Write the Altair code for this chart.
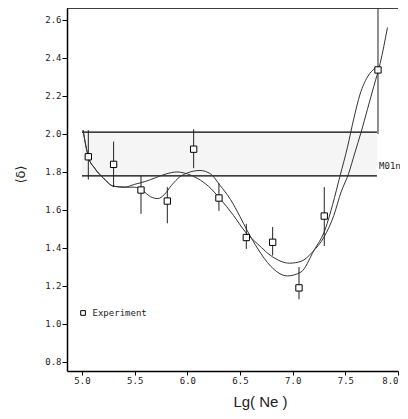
import altair as alt
import pandas as pd

# ---- data ----
exp_x  = [5.06, 5.30, 5.56, 5.81, 6.06, 6.30, 6.56, 6.81, 7.06, 7.30, 7.81]
exp_y  = [1.88, 1.84, 1.705, 1.647, 1.92, 1.663, 1.455, 1.43, 1.19, 1.568, 2.337]
err_lo = [1.76, 1.72, 1.58, 1.53, 1.82, 1.595, 1.395, 1.36, 1.13, 1.41, 2.00]
err_hi = [2.02, 1.96, 1.78, 1.72, 2.025, 1.74, 1.527, 1.51, 1.30, 1.72, 2.67]

curve_a_x = [5.01, 5.06, 5.12, 5.20, 5.30, 5.42, 5.50, 5.58, 5.65, 5.72, 5.78, 5.85,
             5.93, 6.00, 6.12, 6.22, 6.31, 6.41, 6.50, 6.57, 6.67, 6.79, 6.95, 7.08,
             7.20, 7.31, 7.38, 7.45, 7.52, 7.58, 7.64, 7.71, 7.79]
curve_a_y = [2.02, 1.88, 1.82, 1.77, 1.725, 1.72, 1.72, 1.70, 1.67, 1.66, 1.68, 1.73,
             1.775, 1.795, 1.808, 1.79, 1.73, 1.655, 1.565, 1.49, 1.395, 1.305, 1.253, 1.274,
             1.385, 1.50, 1.63, 1.78, 1.93, 2.08, 2.21, 2.30, 2.35]

curve_b_x = [5.01, 5.06, 5.12, 5.20, 5.30, 5.40, 5.50, 5.60, 5.70, 5.80, 5.90, 6.00,
             6.10, 6.20, 6.31, 6.44, 6.55, 6.67, 6.81, 6.97, 7.08, 7.19, 7.30, 7.39,
             7.46, 7.53, 7.59, 7.65, 7.71, 7.77, 7.83, 7.90]
curve_b_y = [2.02, 1.88, 1.82, 1.77, 1.725, 1.72, 1.735, 1.75, 1.77, 1.79, 1.80, 1.79,
             1.765, 1.725, 1.66, 1.57, 1.485, 1.42, 1.353, 1.32, 1.33, 1.38, 1.46, 1.57,
             1.695, 1.79, 1.90, 2.01, 2.13, 2.25, 2.37, 2.56]

band_x = [5.0, 7.80]
band_lo = 1.78
band_hi = 2.01
lower_line_x = [5.0, 7.80]
label_text = "M01n"
label_pos = [7.82, 1.83]
legend_label = "Experiment"
legend_pos = [5.01, 1.058]

x_domain = [4.8576, 8.0]
y_domain = [0.7526, 2.663]
x_ticks = [5.0 + 0.25 * i for i in range(13)]
y_ticks = [round(0.8 + 0.1 * i, 1) for i in range(19)]

FONT_MONO = "DejaVu Sans Mono"

exp = pd.DataFrame({"x": exp_x, "y": exp_y, "lo": err_lo, "hi": err_hi})
curves = pd.concat([
    pd.DataFrame({"x": curve_a_x, "y": curve_a_y, "c": "A"}),
    pd.DataFrame({"x": curve_b_x, "y": curve_b_y, "c": "B"}),
])

xs = alt.Scale(domain=x_domain, nice=False, zero=False)
ys = alt.Scale(domain=y_domain, nice=False, zero=False)

x_axis = alt.Axis(
    values=x_ticks, title="Lg( Ne )",
    labelExpr="round(datum.value*4) % 2 == 0 ? format(datum.value, '.1f') : ''",
    labelFont=FONT_MONO, labelFontSize=9, labelColor="#222", labelPadding=1,
    labelFlush=4, labelOverlap=False,
    tickSize={"condition": {"test": "round(datum.value*4) % 2 == 0", "value": 4}, "value": 3},
    tickColor="black", tickWidth=1,
    domainColor="black", domainWidth=1.5, grid=False,
    titleFont="Liberation Sans", titleFontSize=15, titleFontWeight="normal", titleColor="#222",
    titleX=193, titleY=35, titleBaseline="alphabetic", titleAlign="center",
)
y_axis = alt.Axis(
    values=y_ticks, title="⟨δ⟩",
    labelExpr="round(datum.value*10) % 2 == 0 ? format(datum.value, '.1f') : ''",
    labelFont=FONT_MONO, labelFontSize=9, labelColor="#222", labelPadding=1,
    labelFlush=False, labelOverlap=False,
    tickSize={"condition": {"test": "round(datum.value*10) % 2 == 0", "value": 5}, "value": 4},
    tickColor="black", tickWidth=1,
    domainColor="black", domainWidth=1.5, grid=False,
    titleFont="DejaVu Sans", titleFontSize=13, titleFontWeight="normal", titleColor="#222",
    titleAngle=270, titleX=-47, titleY=166, titleAlign="center", titleBaseline="middle",
)

band = alt.Chart(pd.DataFrame({"x": [band_x[0]], "x2": [band_x[1]], "y": [band_lo], "y2": [band_hi]})).mark_rect(
    fill="#f5f5f5", stroke=None
).encode(x=alt.X("x:Q", scale=xs, axis=x_axis), x2="x2", y=alt.Y("y:Q", scale=ys, axis=y_axis), y2="y2")

upper = alt.Chart(pd.DataFrame({"x": [band_x[0]], "x2": [band_x[1]], "y": [band_hi]})).mark_rule(
    color="black", strokeWidth=1.2
).encode(x="x:Q", x2="x2", y="y:Q")
lower = alt.Chart(pd.DataFrame({"x": [lower_line_x[0]], "x2": [lower_line_x[1]], "y": [band_lo]})).mark_rule(
    color="black", strokeWidth=1.2
).encode(x="x:Q", x2="x2", y="y:Q")

top = alt.Chart(pd.DataFrame({"y": [y_domain[1]]})).mark_rule(color="black", strokeWidth=1.5).encode(y="y:Q")

lines = alt.Chart(curves).mark_line(color="#333", strokeWidth=1, interpolate="monotone").encode(
    x="x:Q", y="y:Q", detail="c:N"
)

bars = alt.Chart(exp).mark_rule(color="#222", strokeWidth=1).encode(x="x:Q", y="lo:Q", y2="hi")
pts = alt.Chart(exp).mark_point(shape="square", size=40, filled=True, fill="white",
                                stroke="black", strokeWidth=1, opacity=1).encode(x="x:Q", y="y:Q")

lab = alt.Chart(pd.DataFrame({"x": [label_pos[0]], "y": [label_pos[1]], "t": [label_text]})).mark_text(
    align="left", baseline="middle", font=FONT_MONO, fontSize=9, color="#222"
).encode(x="x:Q", y="y:Q", text="t:N")

leg_pt = alt.Chart(pd.DataFrame({"x": [legend_pos[0]], "y": [legend_pos[1]]})).mark_point(
    shape="square", size=22, filled=True, fill="white", stroke="black", strokeWidth=1, opacity=1
).encode(x="x:Q", y="y:Q")
leg_tx = alt.Chart(pd.DataFrame({"x": [legend_pos[0] + 0.09], "y": [legend_pos[1]], "t": [legend_label]})).mark_text(
    align="left", baseline="middle", font=FONT_MONO, fontSize=9, color="#222"
).encode(x="x:Q", y="y:Q", text="t:N")

chart = alt.layer(band, upper, lower, top, lines, bars, pts, lab, leg_pt, leg_tx).properties(
    width=331, height=363,
    autosize=alt.AutoSizeParams(type="none"),
    padding={"left": 59, "top": 0, "right": 2, "bottom": 40},
    background="white",
).configure_view(strokeWidth=0)

chart.save("out.html", embed_options={"renderer": "svg", "actions": False})
